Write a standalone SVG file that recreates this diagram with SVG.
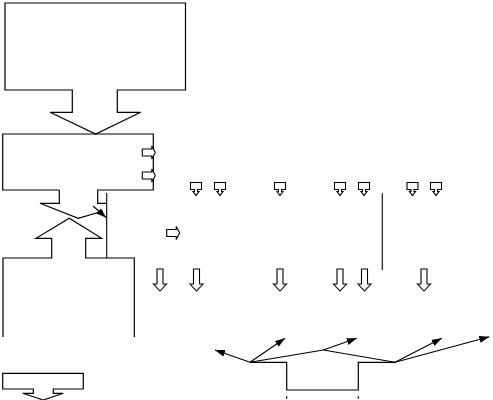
<svg xmlns="http://www.w3.org/2000/svg" width="493" height="400" viewBox="0 0 493 400">
<style>
.s{fill:none;stroke:#000;stroke-width:1.2;stroke-linejoin:miter}
.w{fill:#fff;stroke:#000;stroke-width:1.1}
.c{fill:none;stroke:#000;stroke-width:1.1}
.d{fill:none;stroke:#000;stroke-width:1;stroke-dasharray:3 3}
</style>
<defs>
<marker id="ah" markerUnits="userSpaceOnUse" markerWidth="11" markerHeight="8" refX="10" refY="3.5" orient="auto">
<path d="M0,0 L10,3.5 L0,7 z" fill="#000"/>
</marker>
<polygon id="sd" class="w" points="-5.5,0 5.5,0 5.5,7 1.5,7 1.5,9 3,9 0,13 -3,9 -1.5,9 -1.5,7 -5.5,7"/>
<polygon id="bd" class="w" points="-3,0 3,0 3,15 6.5,15 0,22 -6.5,15 -3,15"/>
<polygon id="sr" class="w" points="0,-3.5 9.5,-3.5 9.5,-6.5 13,0 9.5,6.5 9.5,3.5 0,3.5"/>
</defs>
<rect width="493" height="400" fill="#fff"/>
<g id="top-block">
<polygon class="s" points="5,3 185.5,3 185.5,90 117.3,90 117.3,112.3 140.7,112.3 95.7,134 50,112.3 72.3,112.3 72.3,90 5,90"/>
</g>
<g id="middle-block">
<polyline class="s" points="59.3,190 2.7,190 2.7,134 153.3,134 153.3,190 97.7,190 97.7,203.3 106.7,203.3"/>
<polyline class="s" points="59.3,190 59.3,203.3 40,203.3 78.3,218.3 103,211"/>
<use href="#sr" x="142.3" y="152.5"/>
<use href="#sr" x="142.3" y="175.5"/>
</g>
<g id="bottom-block">
<polyline class="s" points="3,337 3,258 51.7,258 51.7,238.3 36,238.3 69.3,218.3 101.7,238.3 85.7,238.3 85.7,258 134.3,258 134.3,337"/>
</g>
<g id="output-block">
<polygon class="s" points="2.7,373.3 83.3,373.3 83.3,389 53.3,389 53.3,393.3 63.3,393.3 43.3,400 22.7,393.3 33.3,393.3 33.3,389 2.7,389"/>
</g>
<g id="small-arrows">
<use href="#sr" x="166.7" y="233"/>
<use href="#sd" x="196" y="182.5"/>
<use href="#sd" x="220" y="182.5"/>
<use href="#sd" x="280" y="182.5"/>
<use href="#sd" x="340" y="182.5"/>
<use href="#sd" x="364" y="182.5"/>
<use href="#sd" x="412.5" y="182.5"/>
<use href="#sd" x="436" y="182.5"/>
<use href="#bd" x="160" y="269"/>
<use href="#bd" x="196.5" y="269"/>
<use href="#bd" x="280" y="269"/>
<use href="#bd" x="340" y="269"/>
<use href="#bd" x="364.5" y="269"/>
<use href="#bd" x="424" y="269"/>
</g>
<g id="profile">
<polyline class="s" points="250,362.3 286.7,362.3 286.7,390 358.3,390 358.3,362.3 395,362.3"/>
<line class="d" x1="286.7" y1="396" x2="286.7" y2="400"/>
<line class="d" x1="358.3" y1="396" x2="358.3" y2="400"/>
</g>
<g id="connectors">
<line class="c" x1="106.7" y1="193" x2="106.7" y2="258"/>
<line class="c" x1="382.3" y1="193.3" x2="382.3" y2="270"/>
<line class="c" x1="93" y1="206" x2="106" y2="217.5" marker-end="url(#ah)"/>
<line class="c" x1="250" y1="362.3" x2="215" y2="350" marker-end="url(#ah)"/>
<line class="c" x1="250" y1="362.3" x2="285" y2="338.3" marker-end="url(#ah)"/>
<line class="c" x1="250" y1="362.3" x2="323.3" y2="350"/>
<line class="c" x1="323.3" y1="350" x2="356.7" y2="338.3" marker-end="url(#ah)"/>
<line class="c" x1="323.3" y1="350" x2="395" y2="362.3"/>
<line class="c" x1="395" y1="362.3" x2="441.7" y2="338.3" marker-end="url(#ah)"/>
<line class="c" x1="395" y1="362.3" x2="489.3" y2="336.7" marker-end="url(#ah)"/>
</g>
</svg>
